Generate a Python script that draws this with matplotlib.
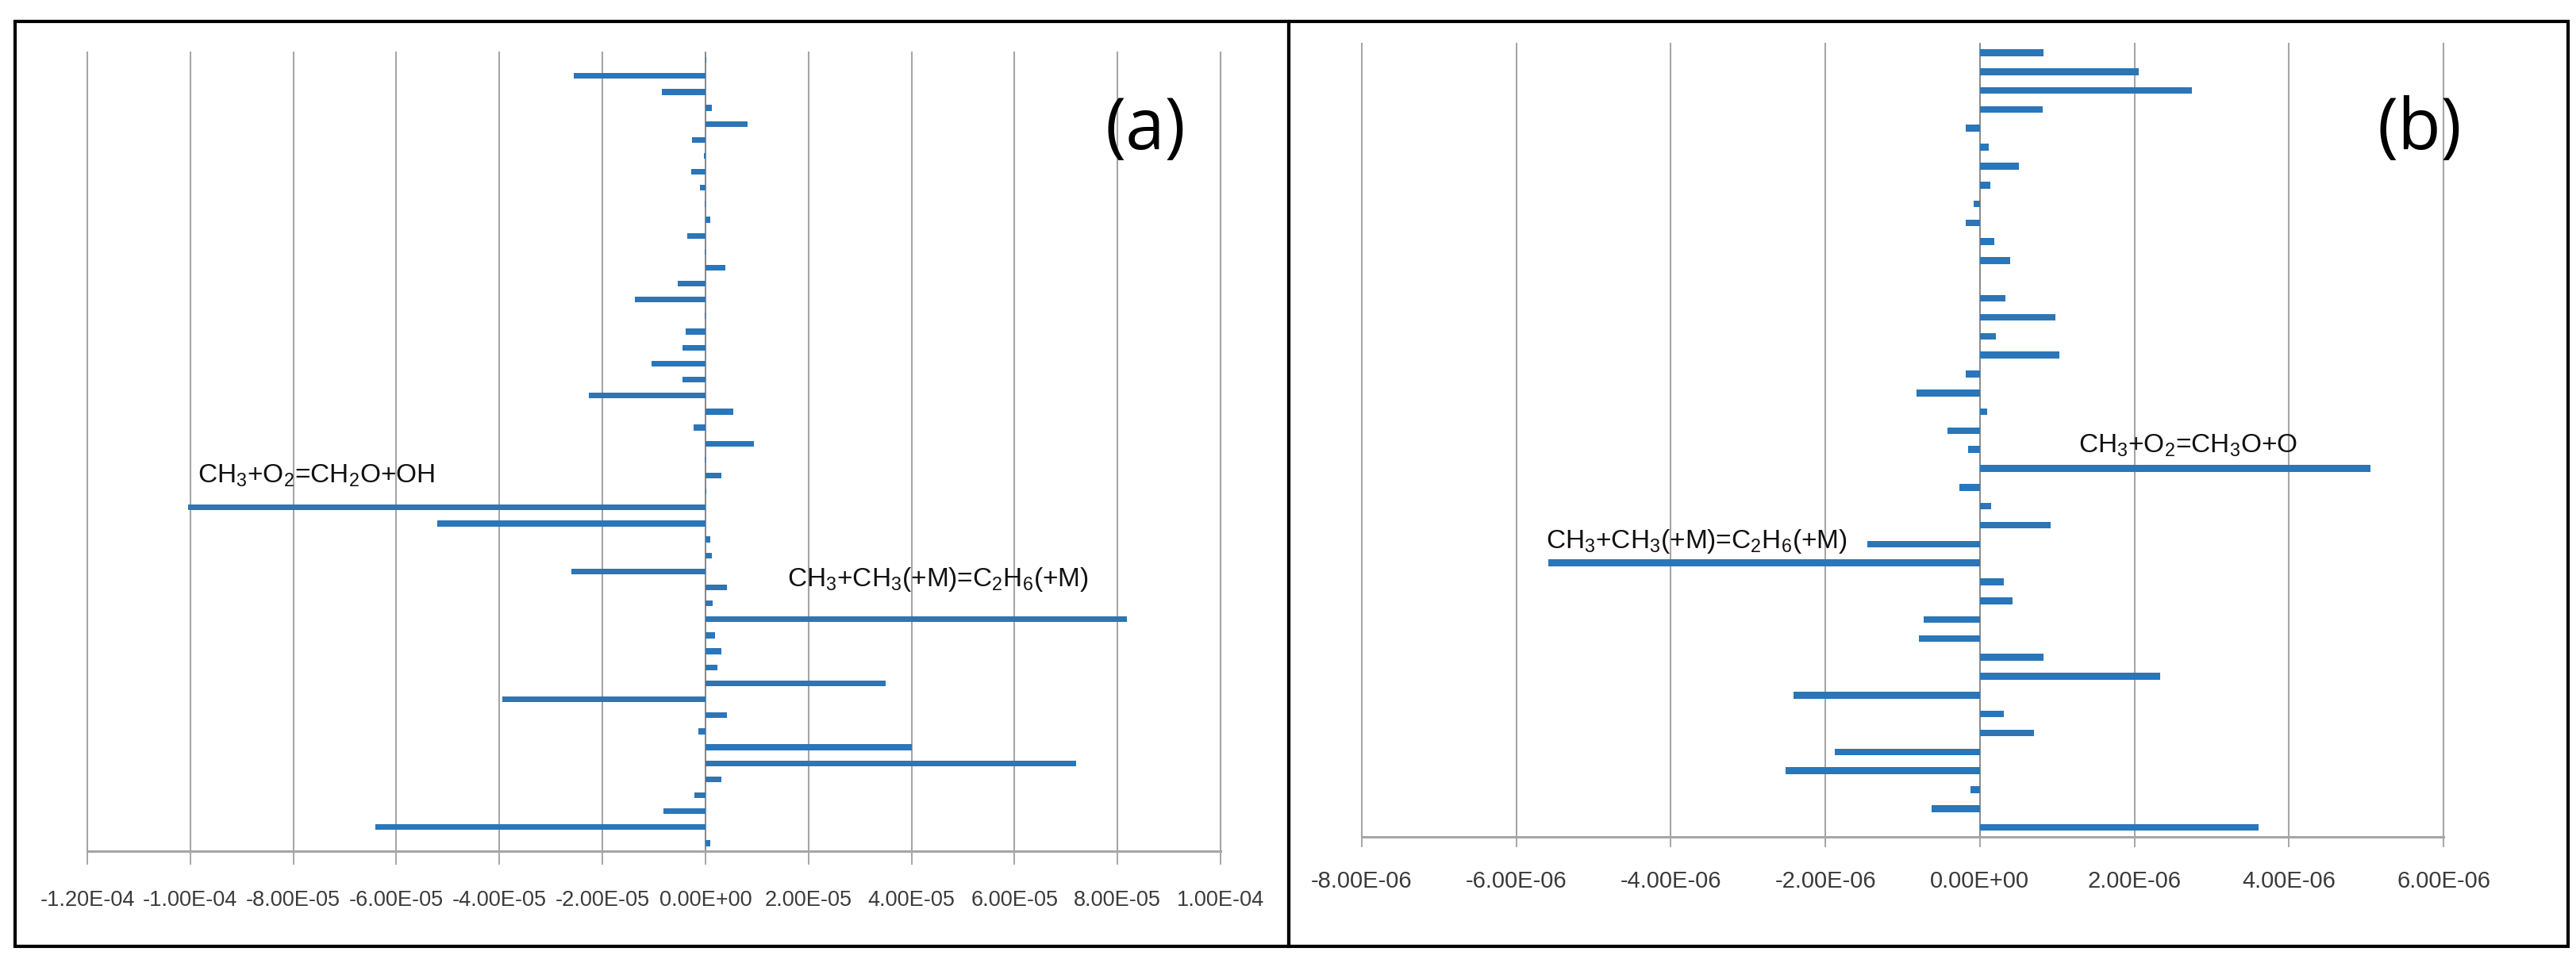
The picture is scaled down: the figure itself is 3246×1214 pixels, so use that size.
import matplotlib

matplotlib.use("Agg")
import matplotlib.pyplot as plt
from matplotlib.patches import Rectangle
from matplotlib.ticker import FuncFormatter

plt.rcParams["font.family"] = ["Liberation Sans", "DejaVu Sans"]
plt.rcParams["mathtext.fontset"] = "custom"
plt.rcParams["mathtext.rm"] = "Liberation Sans"

BLUE = "#2a76b8"
GRID = "#a6a6a6"

# panel (a): sensitivity of each reaction, top row first
values_a = [
    2e-7, -2.55e-5, -8.5e-6, 1.3e-6, 8.2e-6, -2.6e-6, -3e-7, -2.7e-6, -1.0e-6, -2e-7,
    1.0e-6, -3.6e-6, -2e-7, 3.8e-6, -5.4e-6, -1.37e-5, -2e-7, -3.9e-6, -4.4e-6, -1.04e-5,
    -4.5e-6, -2.27e-5, 5.4e-6, -2.3e-6, 9.4e-6, -2e-7, 3.1e-6, 2e-7, -1.005e-4, -5.2e-5,
    1.0e-6, 1.3e-6, -2.6e-5, 4.1e-6, 1.4e-6, 8.18e-5, 1.8e-6, 3.1e-6, 2.3e-6, 3.5e-5,
    -3.95e-5, 4.1e-6, -1.4e-6, 4.01e-5, 7.2e-5, 3.1e-6, -2.1e-6, -8.2e-6, -6.4e-5, 1.0e-6,
]
ticks_a = [-1.2e-4, -1.0e-4, -8e-5, -6e-5, -4e-5, -2e-5, 0.0, 2e-5, 4e-5, 6e-5, 8e-5, 1.0e-4]

# panel (b)
values_b = [
    8.2e-7, 2.06e-6, 2.74e-6, 8.1e-7, -1.8e-7, 1.1e-7, 5.0e-7, 1.3e-7, -8e-8, -1.8e-7,
    1.9e-7, 3.9e-7, 0.0, 3.3e-7, 9.8e-7, 2.1e-7, 1.03e-6, -1.8e-7, -8.2e-7, 9e-8,
    -4.2e-7, -1.5e-7, 5.06e-6, -2.7e-7, 1.5e-7, 9.2e-7, -1.46e-6, -5.59e-6, 3.1e-7, 4.2e-7,
    -7.3e-7, -7.9e-7, 8.2e-7, 2.33e-6, -2.41e-6, 3.1e-7, 7.0e-7, -1.88e-6, -2.52e-6, -1.2e-7,
    -6.2e-7, 3.61e-6,
]
ticks_b = [-8e-6, -6e-6, -4e-6, -2e-6, 0.0, 2e-6, 4e-6, 6e-6]

# annotations: (text, x, row, alignment)
notes_a = [
    (r"CH$_3$+O$_2$=CH$_2$O+OH", -9.86e-5, 26.0, "left"),
    (r"CH$_3$+CH$_3$(+M)=C$_2$H$_6$(+M)", 1.59e-5, 32.5, "left"),
]
notes_b = [
    (r"CH$_3$+O$_2$=CH$_3$O+O", 1.27e-6, 20.8, "left"),
    (r"CH$_3$+CH$_3$(+M)=C$_2$H$_6$(+M)", -1.72e-6, 25.85, "right"),
]

W, H = 3246, 1214


def sci(v, pos):
    if abs(v) < 1e-15:
        v = 0.0
    return f"{v:.2E}"


def draw_panel(ax, values, ticks, notes, ticklen, pad, labelsize):
    n = len(values)
    ax.barh(range(n), values, height=0.36, color=BLUE, zorder=3)
    ax.axvline(0, color="#8c8c8c", lw=1.4, zorder=2)
    ax.set_xlim(ticks[0], ticks[-1])
    ax.set_ylim(n - 0.5, -0.5)
    ax.set_yticks([])
    ax.set_xticks(ticks)
    ax.xaxis.set_major_formatter(FuncFormatter(sci))
    ax.grid(axis="x", color=GRID, lw=1.5)
    ax.set_axisbelow(True)
    for line in ax.get_xgridlines():
        line.set_clip_on(False)
    for side in ("left", "right", "top"):
        ax.spines[side].set_visible(False)
    ax.spines["bottom"].set_color(GRID)
    ax.spines["bottom"].set_linewidth(2.2)
    ax.tick_params(axis="x", direction="out", length=ticklen, width=1.4, color=GRID,
                   pad=pad, labelsize=labelsize, labelcolor="#3a3a3a")
    for text, x, row, ha in notes:
        ax.text(x, row, text, fontsize=24, ha=ha, va="center", color="#111111", zorder=4)


def main():
    fig = plt.figure(figsize=(W / 100, H / 100), dpi=100)
    fig.patch.set_facecolor("white")

    ax_a = fig.add_axes([110 / W, 1 - 1073 / H, (1538 - 110) / W, (1073 - 65.5) / H])
    draw_panel(ax_a, values_a, ticks_a, notes_a, ticklen=12, pad=23, labelsize=19.5)

    ax_b = fig.add_axes([1716 / W, 1 - 1055 / H, (3079 - 1716) / W, (1055 - 54.6) / H])
    draw_panel(ax_b, values_b, ticks_b, notes_b, ticklen=9, pad=21, labelsize=21)

    fig.text(1443 / W, 1 - 165 / H, "(a)", fontsize=64, family="Open Sans",
             ha="center", va="center")
    fig.text(3049 / W, 1 - 165 / H, "(b)", fontsize=64, family="Open Sans",
             ha="center", va="center")

    # panel frames
    for x0, x1 in ((19, 1624), (1624, 3236)):
        fig.add_artist(Rectangle((x0 / W, 1 - 1193 / H), (x1 - x0) / W, (1193 - 27) / H,
                                 transform=fig.transFigure, fill=False,
                                 edgecolor="black", lw=3))

    fig.savefig("out.png", dpi=100)
    plt.close(fig)


if __name__ == "__main__":
    main()
